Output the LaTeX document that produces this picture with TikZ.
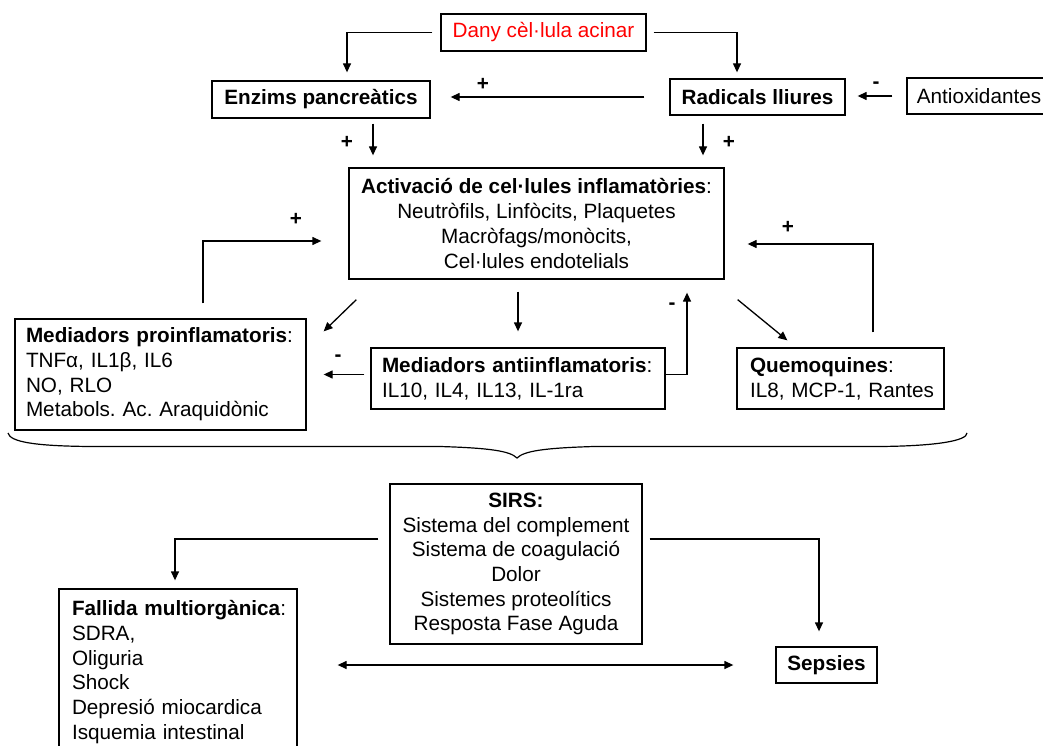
\documentclass[tikz,border=0pt]{standalone}
\usepackage{fontspec}
\setmainfont{Liberation Sans}
\frenchspacing
\usetikzlibrary{arrows.meta}

\begin{document}
\begin{tikzpicture}
[x=1pt,y=-1pt,%
  box/.style={draw,line width=1.3pt,inner sep=0pt,font=\fontsize{20.7}{24.7}\selectfont},%
  leftbox/.style={box,inner xsep=11pt,align=left},%
  midbox/.style={box,align=center},%
  arr/.style={line width=1.3pt,-{Triangle[length=9pt,width=8pt]}},%
  dblarr/.style={line width=1.3pt,{Triangle[length=9pt,width=8pt]}-{Triangle[length=9pt,width=8pt]}},%
  sign/.style={inner sep=0pt,font=\bfseries\fontsize{20.7}{24.7}\selectfont}]
\useasboundingbox (0,0) rectangle (1043,746);
%% boxes
\node (dany) at (543.5,32.5) [box,minimum width=205pt,minimum height=37pt,text=red] {Dany cèl·lula acinar};
\node (enzims) at (321,99.5) [box,minimum width=218pt,minimum height=37pt,font=\bfseries\fontsize{20.7}{24.7}\selectfont] {Enzims pancreàtics};
\node (radicals) at (757.5,97) [box,minimum width=175pt,minimum height=36pt,font=\bfseries\fontsize{20.7}{24.7}\selectfont] {Radicals lliures};
\node (antiox) at (979,96) [box,minimum width=144pt,minimum height=36pt] {Antioxidantes};
\node (activ) at (536.5,223.5) [midbox,minimum width=375pt,minimum height=111pt]
  {\textbf{Activació de cel·lules inflamatòries}:\\Neutròfils, Linfòcits, Plaquetes\\Macròfags/monòcits,\\Cel·lules endotelials};
\node (proinf) at (160.5,374.5) [leftbox,text width=269pt,minimum height=111pt]
  {\mbox{\textbf{Mediadors proinflamatoris}:}\\TNFα, IL1β, IL6\\NO, RLO\\Metabols. Ac. Araquidònic};
\node (antiinf) at (518,378.5) [leftbox,text width=272pt,minimum height=61pt]
  {\mbox{\textbf{Mediadors antiinflamatoris}:}\\IL10, IL4, IL13, IL-1ra};
\node (quem) at (840.5,378.5) [leftbox,inner xsep=13pt,text width=181pt,minimum height=61pt]
  {\textbf{Quemoquines}:\\\mbox{IL8, MCP-1, Rantes}};
\node (sirs) at (516,564) [midbox,minimum width=252pt,minimum height=160pt]
  {\textbf{SIRS:}\\Sistema del complement\\Sistema de coagulació\\Dolor\\Sistemes proteolítics\\Resposta Fase Aguda};
\node (fallida) at (178,672) [leftbox,inner xsep=13pt,text width=212pt,minimum height=166pt]
  {\mbox{\textbf{Fallida multiorgànica}:}\\SDRA,\\Oliguria\\Shock\\Depresió miocardica\\Isquemia intestinal};
\node (sepsies) at (826.5,665) [box,minimum width=101pt,minimum height=36pt,font=\bfseries\fontsize{20.7}{24.7}\selectfont] {Sepsies};
%% signs
\foreach \sx/\sy/\sgn [count=\i] in {483/84/+, 876/85/-, 347/142/+, 729/142/+,
  296/219/+, 338/358/-, 672/306/-, 788/227/+}
{
  \node (sign\i) at (\sx,\sy) [sign] {\sgn};
}
%% arrows, top
\draw[arr,shorten <=8pt,shorten >=8pt] (dany.west) -| ([xshift=26pt]enzims.north);
\draw[arr,shorten <=7pt,shorten >=6pt] (dany.east) -| ([xshift=-20.5pt]radicals.north);
\draw[arr,shorten <=25pt,shorten >=20pt] (radicals.west) -- (radicals.west -| enzims.east);
\draw[arr,shorten <=14pt,shorten >=12pt] (antiox.west) -- (antiox.west -| radicals.east);
\draw[arr,shorten <=5pt,shorten >=12pt] ([xshift=52pt]enzims.south) -- ([xshift=-163.5pt]activ.north);
\draw[arr,shorten <=8pt,shorten >=12pt] ([xshift=-54.5pt]radicals.south) -- ([xshift=166.5pt]activ.north);
%% arrows, middle
\draw[arr,shorten <=15pt,shorten >=27pt] ([xshift=42.5pt]proinf.north) |- ([yshift=-17.5pt]activ.west);
\draw[arr] ([xshift=8pt,yshift=-20pt]activ.south west) -- ([xshift=17pt,yshift=-13pt]proinf.north east);
\draw[arr,shorten <=12pt,shorten >=16pt] ([xshift=-18.5pt]activ.south) -- (antiinf.north);
\draw[arr,shorten <=6pt,shorten >=17pt] (antiinf.west |- proinf.east) -- (proinf.east);
\draw[arr,shorten >=13pt] (antiinf.east |- proinf.east) -| ([xshift=150.5pt]activ.south);
\draw[arr] ([xshift=13pt,yshift=-20pt]activ.south east) -- ([xshift=51pt,yshift=7pt]quem.north west);
\draw[arr,shorten <=15pt,shorten >=23pt] ([xshift=32.5pt]quem.north) |- ([yshift=-20.5pt]activ.east);
%% brace
\draw[line width=1.2pt] (8,433) .. controls (10,442) and (35,446) .. (90,446.5) -- (440,446.5)
  .. controls (490,448) and (510,451) .. (517,458)
  .. controls (524,451) and (544,448) .. (594,446.5) -- (880,446.5)
  .. controls (935,446) and (967,441) .. (967,433);
%% arrows, bottom
\draw[arr,shorten <=11pt,shorten >=8pt] ([yshift=25pt]sirs.west) -| ([xshift=-3pt]fallida.north);
\draw[arr,shorten <=7pt,shorten >=15pt] ([yshift=25pt]sirs.east) -| ([xshift=-7.5pt]sepsies.north);
\draw[dblarr,shorten <=40pt,shorten >=42pt] ([yshift=7pt]fallida.east) -- (sepsies.west);
\end{tikzpicture}
\end{document}
